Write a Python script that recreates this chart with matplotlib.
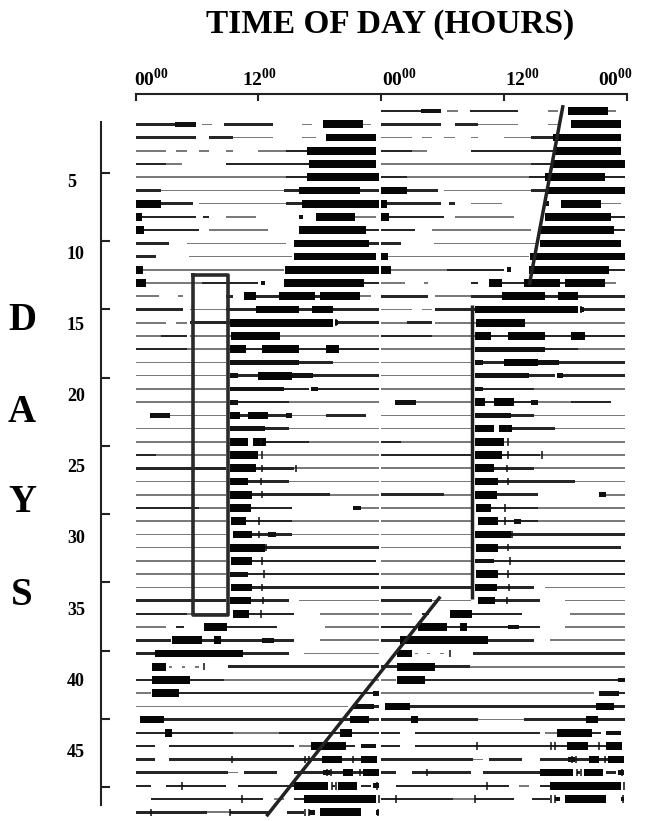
import numpy as np
import matplotlib.pyplot as plt

plt.rcParams['font.family'] = ['Liberation Serif', 'DejaVu Serif']
plt.rcParams['mathtext.fontset'] = 'custom'
plt.rcParams['mathtext.bf'] = 'Liberation Serif:bold'
plt.rcParams['mathtext.rm'] = 'Liberation Serif:bold'

# activity bouts per day: (start hour, end hour, intensity 1..4)
activity = [
    [(0, 3.9, 2), (3.9, 5.9, 3), (6.5, 7.5, 1), (8.7, 13.4, 2), (16.3, 17.3, 1), (18.3, 22.2, 4), (22.2, 23, 1)],
    [(0, 5.9, 2), (7.2, 9.5, 2), (9.5, 13.4, 1), (16.3, 17.6, 1), (18.6, 23.5, 4)],
    [(0, 3, 1), (4, 5, 1), (6.2, 7.2, 1), (8.8, 9.5, 1), (12, 14.7, 1), (14.7, 16.8, 2), (16.8, 23.5, 4)],
    [(0, 3, 2), (3, 4.5, 1), (8.8, 17, 2), (17, 23.5, 4)],
    [(0, 14.7, 1), (14.7, 16.8, 2), (16.8, 24, 4)],
    [(0, 2.5, 2), (2.5, 14.5, 1), (14.5, 16, 2), (16, 21.9, 4), (21.9, 24, 2)],
    [(0, 2.5, 4), (2.5, 5.6, 2), (6.2, 14.7, 1), (14.7, 16.3, 2), (16.3, 24, 4)],
    [(0, 0.6, 4), (0.6, 5.9, 2), (6.6, 7.2, 2), (8.8, 11.8, 1), (16, 16.4, 3), (17.6, 21.5, 4), (21.5, 23.5, 1)],
    [(0, 0.8, 4), (0.8, 6.2, 2), (7.2, 13, 1), (16, 22.5, 4), (22.5, 24, 2)],
    [(0, 3.3, 2), (5, 14.7, 1), (15.5, 22.8, 4), (22.8, 24, 2)],
    [(0, 2, 2), (5.2, 15.3, 1), (15.5, 23.5, 4)],
    [(0, 0.7, 4), (0.7, 14.5, 1), (14.6, 24, 4)],
    [(0, 1, 4), (1, 6.5, 1), (6.5, 12, 2), (12.3, 12.7, 3), (14.5, 22.3, 4), (22.3, 24, 2)],
    [(0, 2.3, 1), (4.2, 4.6, 1), (8.8, 9.5, 2), (10.6, 11.8, 4), (11.8, 14, 2), (14, 17.5, 4), (17.5, 18, 2), (18, 21.9, 4), (21.9, 23, 1)],
    [(0, 4.6, 2), (5.3, 8.8, 1), (8.8, 11.8, 2), (11.8, 16, 4), (16, 17.3, 2), (17.3, 19.3, 4), (19.3, 24, 2)],
    [(0, 3, 1), (4, 5, 1), (5.3, 9.2, 2), (9.2, 19.3, 4), (19.5, 19.8, 3), (19.8, 24, 2)],
    [(0, 2.5, 1), (2.5, 5, 2), (5.3, 9.3, 1), (9.3, 14.1, 4), (14.1, 24, 1)],
    [(0, 5, 2), (5, 9.2, 1), (9.2, 10.8, 4), (10.8, 12.4, 2), (12.4, 16, 4), (16, 18.6, 2), (18.6, 19.9, 4), (19.9, 24, 2)],
    [(0, 8.8, 1), (9.2, 16, 3), (16, 19.3, 2), (19.3, 24, 1)],
    [(0, 8.8, 1), (9.2, 10, 3), (10, 12, 2), (12, 15.3, 4), (15.3, 17.4, 3), (17.4, 24, 2)],
    [(0, 8.8, 1), (9.2, 14.5, 3), (14.5, 17, 2), (17.2, 17.8, 3), (17.8, 24, 2)],
    [(0, 8.8, 1), (9.2, 10, 3), (10, 15, 2), (15, 24, 1)],
    [(1.4, 3.4, 3), (3.4, 8.8, 1), (9.2, 10.2, 4), (10.2, 11, 2), (11, 13, 4), (13, 14.7, 2), (14.7, 15.3, 3), (15.3, 18.6, 1), (18.6, 22.5, 2)],
    [(0, 8.8, 1), (9.2, 12.7, 3), (12.7, 15, 2), (15, 24, 1)],
    [(0, 8.8, 1), (9.2, 11, 4), (11.5, 12.8, 4), (12.8, 17, 2), (17, 24, 1)],
    [(0, 2, 2), (2, 8.8, 1), (9.2, 12, 4), (12, 24, 1)],
    [(0, 8.8, 2), (9.2, 11.8, 4), (11.8, 15.5, 2), (15.5, 24, 1)],
    [(0, 8.8, 1), (9.2, 11, 4), (11, 15, 2), (15, 24, 1)],
    [(0, 8.8, 1), (9.2, 11.4, 4), (11.4, 19, 2), (19, 24, 1)],
    [(0, 6.2, 2), (6.2, 8.8, 1), (9.2, 11.3, 4), (11.3, 15.3, 2), (21.3, 22, 3), (22, 24, 1)],
    [(0, 8.8, 1), (9.3, 10.8, 4), (10.8, 15.3, 2), (15.3, 24, 1)],
    [(0, 8.8, 1), (9.5, 11.4, 4), (11.4, 15.3, 2), (13, 13.7, 3), (15.3, 24, 1)],
    [(0, 8.8, 1), (9.2, 12.7, 4), (12.7, 24, 2)],
    [(0, 8.8, 1), (9.3, 11.4, 4), (11.4, 23.5, 2)],
    [(0, 8.8, 1), (9.2, 11, 3), (11, 24, 2)],
    [(0, 8.8, 1), (9.3, 11.4, 4), (11.4, 24, 2)],
    [(0, 8.8, 2), (9.2, 11.3, 4), (11.3, 15, 2), (16, 24, 1)],
    [(0, 5, 2), (5, 8.8, 1), (9.5, 11.1, 4), (11.1, 15.5, 2), (18, 24, 1)],
    [(0, 3, 1), (4, 4.7, 2), (6.7, 8.9, 4), (8.9, 13.8, 2), (18.5, 24, 1)],
    [(0, 3.5, 2), (3.6, 6.5, 4), (6.5, 7.7, 2), (7.7, 8.4, 4), (8.4, 12.4, 2), (12.4, 13.5, 3), (13.5, 15.5, 2), (18, 24, 1)],
    [(0, 1.9, 2), (1.9, 10.5, 4), (10.5, 15, 2), (16.5, 24, 1)],
    [(1.6, 3, 4), (3.3, 3.6, 1), (4.5, 4.8, 1), (5.8, 6.2, 1), (9, 24, 2)],
    [(0, 1.6, 2), (1.6, 5.3, 4), (5.3, 8.7, 2), (8.7, 24, 1)],
    [(0, 1.5, 1), (1.6, 4.3, 4), (4.3, 23.2, 2), (23.2, 24, 3)],
    [(0, 20.8, 1), (21.3, 23.3, 3), (23.3, 24, 2)],
    [(0.4, 2.8, 4), (2.8, 21, 2), (21, 22.8, 4), (22.8, 24, 2)],
    [(0, 2.9, 2), (2.9, 3.6, 4), (3.6, 9.5, 2), (9.5, 14, 1), (14, 20, 2), (20, 21.2, 4), (21.2, 24, 2)],
    [(0, 1.9, 2), (3.3, 15.5, 2), (16, 17.2, 1), (17.2, 20.6, 4), (20.6, 21.5, 2), (22, 23.5, 3)],
    [(0, 1.9, 2), (3.3, 15.5, 2), (15.5, 18.2, 2), (18.2, 20.2, 4), (20.2, 22, 2), (22, 23.6, 4)],
    [(0, 9, 2), (9, 10, 1), (10.6, 13.8, 2), (15.5, 20.3, 2), (18.3, 19, 3), (20.3, 21.3, 4), (21.3, 22.2, 2), (22.2, 23.8, 4)],
    [(0, 1.5, 2), (3, 8.8, 2), (10, 15.5, 2), (15.5, 18.8, 4), (19.2, 19.5, 2), (19.8, 21.7, 4), (22, 23, 2), (23.2, 23.8, 3)],
    [(1.5, 12.5, 2), (13.5, 14.5, 1), (15.5, 16.5, 2), (16.5, 23.5, 4)],
    [(0, 7, 2), (7, 9.2, 1), (9.2, 13, 2), (14.8, 16.5, 2), (17, 17.5, 3), (18, 22, 4), (23.5, 23.8, 3)],
]

# short vertical spikes ("+" marks) per day, hours
spikes = {
    16: [19.6], 25: [12.3], 26: [12.4], 27: [12.4, 15.7], 28: [12.3], 29: [12.4],
    31: [12.1], 32: [12.1], 33: [12.8], 34: [12.4], 35: [12.6], 36: [12.4],
    37: [12.5], 38: [12.3], 42: [6.7], 49: [9.4, 16.6, 17.0, 21.3],
    50: [18.7, 19.1, 21.9], 51: [4.5, 19.2, 19.6, 23.6], 52: [10.4, 23.8],
    53: [1.5, 9.2, 16.6, 17.0, 23.7],
}

hour_ticks = [0, 12, 24, 36, 48]
hour_labels = ['00', '12', '00', '12', '00']
day_labels = [5, 10, 15, 20, 25, 30, 35, 40, 45]

# hand-drawn markers on the original figure (hours, days)
box_hours = (5.6, 9.0)
box_days = (12.4, 38.1)
entrain_line = ([32.9, 32.9], [14.65, 36.9])
upper_line = ([41.8, 38.5], [-0.45, 13.15])
lower_line = ([29.8, 12.8], [36.7, 53.3])

fig = plt.figure(figsize=(6.45, 8.21), dpi=100)
ax = fig.add_axes([135.5 / 645, 0, 491 / 645, (821 - 94) / 821])
ax.set_xlim(0, 48)
ax.set_ylim(53.66, -1.29)

thick = {1: 0.12, 2: 0.19, 3: 0.36, 4: 0.58}
shade = {1: '#7a7a7a', 2: '#262626', 3: '#111111', 4: '#050505'}

for day, bouts in enumerate(activity, start=1):
    for off, row in ((0, day), (24, day - 1)):
        for lev in (1, 2, 3, 4):
            segs = [(off + a, min(b, 23.85) - a) for a, b, l in bouts if l == lev]
            if segs:
                ax.broken_barh(segs, (row - thick[lev] / 2, thick[lev]),
                               facecolors=shade[lev], edgecolor='none')
        for h in spikes.get(day, []):
            ax.plot([off + h, off + h], [row - 0.28, row + 0.28], color='#111111',
                    lw=1.1, solid_capstyle='butt')

# annotation lines
bx0, bx1 = box_hours
by0, by1 = box_days
ax.plot([bx0, bx1, bx1, bx0, bx0], [by0, by0, by1, by1, by0], color='#2a2a2a', lw=2.6)
for xs, ys in (entrain_line, upper_line, lower_line):
    ax.plot(xs, ys, color='#222222', lw=2.5, solid_capstyle='butt', clip_on=False)

# axes styling
for s in ('right', 'bottom'):
    ax.spines[s].set_visible(False)
ax.spines['top'].set_linewidth(1.5)
ax.spines['top'].set_color('#222222')
ax.spines['left'].set_position(('outward', 24.8))
ax.spines['left'].set_bounds(0.83, 52.45)
ax.spines['left'].set_linewidth(1.5)
ax.spines['left'].set_color('#222222')

ax.xaxis.tick_top()
ax.set_xticks(hour_ticks)
ax.set_xticklabels([])
ax.tick_params(axis='x', direction='in', length=5, width=1.5, color='#222222')
ax.set_yticks(np.linspace(4.68, 51.09, 10))
ax.set_yticklabels([])
ax.tick_params(axis='y', direction='in', length=6.5, width=1.5, color='#222222')

label_shift = [-1.2, -12, 0.9, 0.9, -20.7]
for h, lab, dx in zip(hour_ticks, hour_labels, label_shift):
    ax.annotate(r'$\mathbf{%s}^{\mathbf{00}}$' % lab, xy=(h, 1.0),
                xycoords=('data', 'axes fraction'), xytext=(dx, 3),
                textcoords='offset points', ha='left', va='bottom', fontsize=14)

for lab in day_labels:
    ax.text(-0.1395, 5.43 + (lab - 5) * 1.0766, str(lab), transform=ax.get_yaxis_transform(),
            ha='left', va='center', fontsize=13, fontweight='bold')

for letter, ypx in zip('DAYS', [320, 412, 502, 595]):
    fig.text(22 / 645, 1 - ypx / 821, letter, ha='center', va='center',
             fontsize=28, fontweight='bold')

fig.text(390 / 645, 1 - 24 / 821, 'TIME OF DAY (HOURS)', ha='center', va='center',
         fontsize=24, fontweight='bold')

fig.savefig('out.png', dpi=100)
